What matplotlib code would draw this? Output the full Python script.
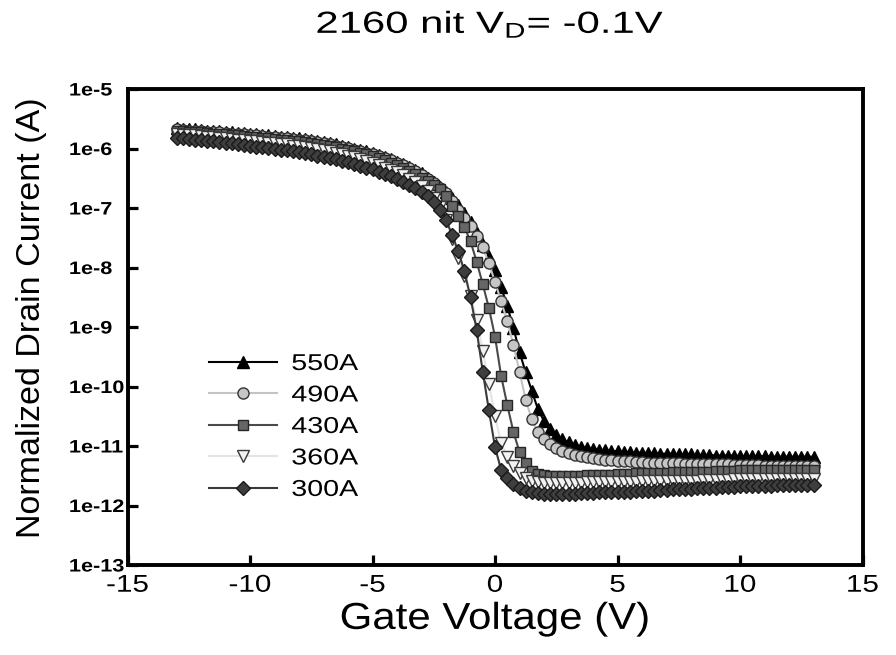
import numpy as np
import matplotlib
matplotlib.use("Agg")
import matplotlib.pyplot as plt
from matplotlib import patheffects
from matplotlib.transforms import Affine2D
from matplotlib.ticker import NullLocator

# ---------------- data (log10 of normalized drain current, A) ----------------
gate_voltage = np.arange(-13.0, 13.001, 0.25)

log_id_550A = [
    -5.66, -5.67, -5.68, -5.68, -5.69, -5.70, -5.71, -5.71,
    -5.72, -5.73, -5.74, -5.74, -5.75, -5.76, -5.77, -5.78,
    -5.79, -5.80, -5.81, -5.82, -5.83, -5.84, -5.86, -5.87,
    -5.89, -5.91, -5.93, -5.95, -5.97, -6.00, -6.02, -6.05,
    -6.08, -6.11, -6.14, -6.18, -6.22, -6.26, -6.31, -6.36,
    -6.42, -6.49, -6.56, -6.64, -6.73, -6.83, -6.95, -7.08,
    -7.24, -7.42, -7.62, -7.82, -8.05, -8.33, -8.65, -9.01,
    -9.42, -9.76, -10.07, -10.38, -10.58, -10.72, -10.82, -10.89,
    -10.94, -10.98, -11.01, -11.03, -11.05, -11.06, -11.07, -11.08,
    -11.09, -11.10, -11.10, -11.11, -11.11, -11.12, -11.12, -11.13,
    -11.13, -11.13, -11.14, -11.14, -11.14, -11.15, -11.15, -11.15,
    -11.16, -11.16, -11.16, -11.16, -11.17, -11.17, -11.17, -11.17,
    -11.17, -11.18, -11.18, -11.18, -11.18, -11.18, -11.18, -11.18,
    -11.18]

log_id_490A = [
    -5.68, -5.69, -5.70, -5.70, -5.71, -5.72, -5.73, -5.73,
    -5.74, -5.75, -5.76, -5.76, -5.77, -5.78, -5.79, -5.80,
    -5.81, -5.82, -5.83, -5.84, -5.85, -5.86, -5.88, -5.89,
    -5.91, -5.93, -5.95, -5.97, -5.99, -6.02, -6.04, -6.07,
    -6.10, -6.13, -6.16, -6.20, -6.24, -6.28, -6.33, -6.38,
    -6.44, -6.51, -6.58, -6.66, -6.75, -6.88, -7.03, -7.16,
    -7.30, -7.47, -7.66, -7.93, -8.24, -8.57, -8.90, -9.30,
    -9.75, -10.22, -10.55, -10.77, -10.89, -10.97, -11.03, -11.08,
    -11.12, -11.15, -11.17, -11.19, -11.21, -11.22, -11.23, -11.24,
    -11.25, -11.26, -11.26, -11.27, -11.27, -11.28, -11.28, -11.28,
    -11.29, -11.29, -11.29, -11.30, -11.30, -11.30, -11.30, -11.31,
    -11.31, -11.31, -11.31, -11.32, -11.32, -11.32, -11.32, -11.32,
    -11.33, -11.33, -11.33, -11.33, -11.33, -11.33, -11.33, -11.33,
    -11.33]

log_id_430A = [
    -5.70, -5.71, -5.72, -5.72, -5.73, -5.74, -5.75, -5.75,
    -5.76, -5.77, -5.78, -5.79, -5.80, -5.81, -5.82, -5.83,
    -5.84, -5.85, -5.86, -5.87, -5.88, -5.89, -5.91, -5.92,
    -5.94, -5.96, -5.98, -6.00, -6.02, -6.05, -6.07, -6.10,
    -6.13, -6.16, -6.20, -6.24, -6.28, -6.32, -6.37, -6.43,
    -6.49, -6.55, -6.62, -6.68, -6.80, -6.97, -7.14, -7.32,
    -7.56, -7.90, -8.28, -8.68, -9.16, -9.82, -10.31, -10.76,
    -11.10, -11.28, -11.42, -11.47, -11.49, -11.50, -11.50, -11.50,
    -11.50, -11.50, -11.50, -11.49, -11.49, -11.49, -11.48, -11.48,
    -11.47, -11.47, -11.47, -11.46, -11.46, -11.46, -11.45, -11.45,
    -11.45, -11.44, -11.44, -11.44, -11.43, -11.43, -11.43, -11.43,
    -11.42, -11.42, -11.42, -11.42, -11.41, -11.41, -11.41, -11.41,
    -11.41, -11.40, -11.40, -11.40, -11.40, -11.40, -11.40, -11.40,
    -11.40]

log_id_360A = [
    -5.76, -5.77, -5.78, -5.78, -5.79, -5.80, -5.81, -5.82,
    -5.83, -5.84, -5.85, -5.86, -5.87, -5.88, -5.89, -5.90,
    -5.91, -5.92, -5.93, -5.95, -5.96, -5.97, -5.99, -6.01,
    -6.03, -6.05, -6.07, -6.09, -6.12, -6.15, -6.18, -6.21,
    -6.24, -6.28, -6.32, -6.36, -6.40, -6.45, -6.51, -6.57,
    -6.63, -6.72, -6.83, -6.98, -7.20, -7.52, -7.84, -8.15,
    -8.48, -8.88, -9.40, -9.95, -10.50, -10.95, -11.18, -11.33,
    -11.45, -11.54, -11.59, -11.61, -11.62, -11.62, -11.62, -11.62,
    -11.62, -11.62, -11.62, -11.61, -11.61, -11.61, -11.61, -11.60,
    -11.60, -11.60, -11.60, -11.60, -11.59, -11.59, -11.59, -11.59,
    -11.59, -11.58, -11.58, -11.58, -11.58, -11.58, -11.57, -11.57,
    -11.57, -11.57, -11.57, -11.56, -11.56, -11.56, -11.56, -11.56,
    -11.56, -11.55, -11.55, -11.55, -11.55, -11.55, -11.55, -11.55,
    -11.55]

log_id_300A = [
    -5.82, -5.83, -5.84, -5.85, -5.86, -5.87, -5.88, -5.89,
    -5.90, -5.91, -5.93, -5.94, -5.96, -5.97, -5.98, -5.99,
    -6.01, -6.02, -6.03, -6.05, -6.06, -6.08, -6.10, -6.12,
    -6.14, -6.16, -6.18, -6.21, -6.23, -6.26, -6.29, -6.32,
    -6.35, -6.39, -6.43, -6.47, -6.51, -6.56, -6.61, -6.67,
    -6.73, -6.80, -6.90, -7.04, -7.20, -7.45, -7.73, -8.06,
    -8.50, -9.05, -9.75, -10.40, -11.02, -11.40, -11.54, -11.64,
    -11.71, -11.75, -11.78, -11.79, -11.80, -11.80, -11.80, -11.80,
    -11.80, -11.80, -11.79, -11.79, -11.79, -11.78, -11.78, -11.78,
    -11.77, -11.77, -11.77, -11.76, -11.76, -11.75, -11.75, -11.74,
    -11.74, -11.73, -11.73, -11.72, -11.72, -11.71, -11.71, -11.70,
    -11.70, -11.69, -11.69, -11.69, -11.68, -11.68, -11.68, -11.67,
    -11.67, -11.67, -11.66, -11.66, -11.66, -11.65, -11.65, -11.65,
    -11.65]

series_labels = ["550A", "490A", "430A", "360A", "300A"]
series_logs = [log_id_550A, log_id_490A, log_id_430A, log_id_360A, log_id_300A]

xticks = [-15, -10, -5, 0, 5, 10, 15]
xtick_labels = ["-15", "-10", "-5", "0", "5", "10", "15"]
yticks = [1e-5, 1e-6, 1e-7, 1e-8, 1e-9, 1e-10, 1e-11, 1e-12, 1e-13]
ytick_labels = ["1e-5", "1e-6", "1e-7", "1e-8", "1e-9", "1e-10", "1e-11", "1e-12", "1e-13"]

# ---------------- styles ----------------
styles = [
    dict(marker="^", color="#000000", mfc="#000000", mec="#000000", ms=9.0),
    dict(marker="o", color="#c4c4c4", mfc="#c6c6c6", mec="#333333", ms=8.0),
    dict(marker="s", color="#4a4a4a", mfc="#666666", mec="#262626", ms=7.5),
    dict(marker="v", color="#e4e4e4", mfc="#f2f2f2", mec="#3a3a3a", ms=8.5),
    dict(marker="D", color="#3a3a3a", mfc="#3e3e3e", mec="#1a1a1a", ms=7.5),
]


class HStretch(patheffects.AbstractPathEffect):
    """Stretch text horizontally (display x) about an anchor."""
    def __init__(self, sx, anchor="center"):
        super().__init__()
        self.sx = sx
        self.anchor = anchor

    def draw_path(self, renderer, gc, tpath, affine, rgbFace=None):
        ext = tpath.get_extents(affine)
        if self.anchor == "left":
            cx = ext.x0
        elif self.anchor == "right":
            cx = ext.x1
        else:
            cx = 0.5 * (ext.x0 + ext.x1)
        t = affine + Affine2D().translate(-cx, 0).scale(self.sx, 1.0).translate(cx, 0)
        renderer.draw_path(gc, tpath, t, rgbFace)


plt.rcParams["font.family"] = ["Liberation Sans", "DejaVu Sans"]
plt.rcParams["mathtext.fontset"] = "custom"
plt.rcParams["mathtext.rm"] = "Liberation Sans"
plt.rcParams["mathtext.it"] = "Liberation Sans"

W, H = 896, 655
fig = plt.figure(figsize=(W / 100, H / 100), dpi=100)
ax_left, ax_right, ax_top, ax_bottom = 127.5, 862.5, 89, 565
ax = fig.add_axes([ax_left / W, 1 - ax_bottom / H, (ax_right - ax_left) / W, (ax_bottom - ax_top) / H])

handles = []
for lbl, logs, st in zip(series_labels, series_logs, styles):
    y = 10.0 ** np.asarray(logs)
    h, = ax.plot(gate_voltage, y, linestyle="-", lw=1.5, color=st["color"],
                 marker=st["marker"], markersize=st["ms"], markerfacecolor=st["mfc"],
                 markeredgecolor=st["mec"], markeredgewidth=1.0, label=lbl)
    handles.append(h)

ax.set_yscale("log")
ax.set_xlim(-15, 15)
ax.set_ylim(1e-13, 1e-5)
ax.yaxis.set_minor_locator(NullLocator())
ax.xaxis.set_minor_locator(NullLocator())

ax.set_xticks(xticks, labels=xtick_labels)
ax.set_yticks(yticks, labels=ytick_labels)

for sp in ax.spines.values():
    sp.set_linewidth(2.8)

ax.tick_params(axis="both", which="major", direction="in", length=7, width=2.3,
               top=False, right=False, color="black")
ax.tick_params(axis="x", labelsize=17.5, pad=7)
ax.tick_params(axis="y", labelsize=13, pad=42)

for t in ax.get_xticklabels():
    t.set_path_effects([HStretch(1.22, "center")])
for t in ax.get_yticklabels():
    t.set_fontweight("bold")
    t.set_horizontalalignment("left")
    t.set_path_effects([HStretch(1.2, "left")])

xl = ax.set_xlabel("Gate Voltage (V)", fontsize=27, labelpad=3)
xl.set_path_effects([HStretch(1.12, "center")])
ax.set_ylabel("Normalized Drain Current (A)", fontsize=24.5)
ax.yaxis.set_label_coords(-0.11, 0.52)

ttl = fig.text(490 / W, 1 - 33 / H, r"2160 nit V$_{\mathrm{D}}$= -0.1V", fontsize=22,
               ha="center", va="baseline")
ttl.set_path_effects([HStretch(1.37, "center")])

leg = ax.legend(handles=handles, loc="upper left",
                bbox_to_anchor=((209 - ax_left) / (ax_right - ax_left), (ax_bottom - 352) / (ax_bottom - ax_top)),
                frameon=False, fontsize=16.5, numpoints=1, handlelength=2.97,
                handletextpad=0.63, labelspacing=0.37, borderpad=0, borderaxespad=0)
for t in leg.get_texts():
    t.set_path_effects([HStretch(1.25, "left")])

fig.savefig("out.png", dpi=100)
